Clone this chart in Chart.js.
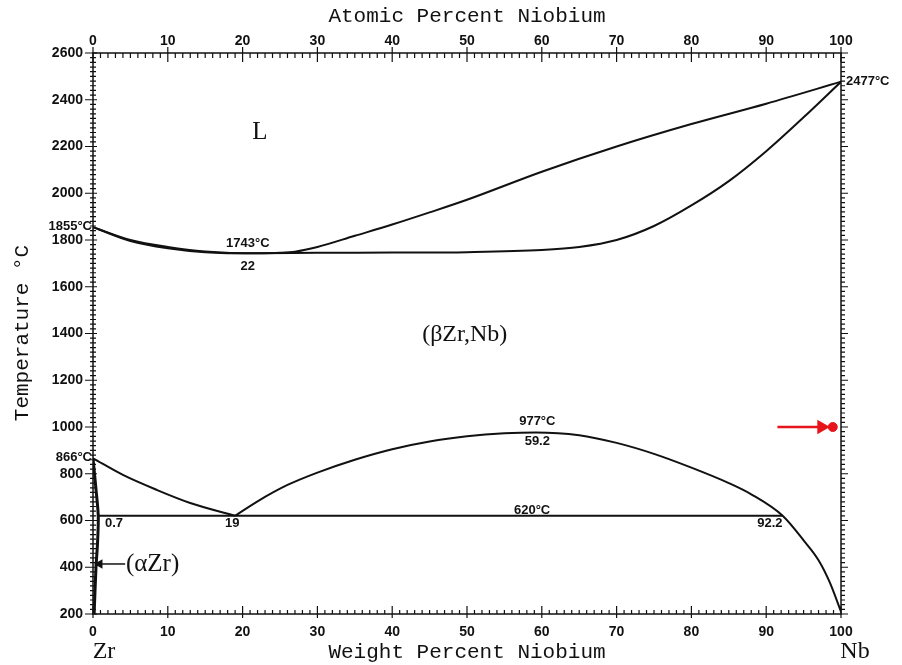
<!DOCTYPE html>
<html>
<head>
<meta charset="utf-8">
<script src="https://cdn.jsdelivr.net/npm/chart.js@4.4.1/dist/chart.umd.min.js"></script>
<style>
  body { margin: 0; background: #fff; }
  canvas { display: block; }
</style>
</head>
<body>
<canvas id="phaseChart" width="902" height="665"></canvas>
<script>
// Zr-Nb phase diagram, points are [wt% Nb, temperature in C]
const liquidus = [[0,1855],[5,1800],[10,1770],[15,1751],[22,1743],[25,1745],[27,1750],[30,1770],[35,1818],[40,1866],[45,1918],[50,1972],[60,2092],[70,2200],[80,2296],[90,2383],[100,2477]];
const solidus = [[0,1855],[5,1796],[10,1765],[15,1748],[22,1743],[30,1745],[40,1746],[50,1748],[60,1757],[65,1770],[70,1800],[75,1860],[80,1948],[85,2052],[90,2180],[95,2325],[100,2477]];
const betaSolvusLeft = [[0,866],[4,795],[8.6,730],[13,675],[19,620]];
const miscibilityDome = [[19,620],[22,682],[26,752],[30,805],[35,860],[40,905],[45,938],[50,960],[55,973],[59.2,977],[65,965],[70,932],[75,885],[80,826],[85,760],[88,712],[92.2,620],[95,515],[97,430],[98.5,335],[100,210]];
const alphaSolvus = [[0,866],[0.35,750],[0.7,620],[0.6,500],[0.4,400],[0.15,200]];
const eutectoid = [[0.7,620],[92.2,620]];
const alphaArrow = [[4.3,414],[0.9,414]];
const redArrow = [[91.5,1000],[97.4,1000]];
const redPoint = [[98.9,1000]];

const wtTicks = [0,10,20,30,40,50,60,70,80,90,100];
const atTicks = [0,10,20,30,40,50,60,70,80,90,100];
const tempTicks = [200,400,600,800,1000,1200,1400,1600,1800,2000,2200,2400,2600];

const numFont = 'bold 13px "Liberation Sans"';
const labels = [
  { text: '1743°C', x: 20.7, y: 1787, font: numFont },
  { text: '22', x: 20.7, y: 1689, font: numFont },
  { text: '977°C', x: 59.4, y: 1026, font: numFont },
  { text: '59.2', x: 59.4, y: 940, font: numFont },
  { text: '620°C', x: 58.7, y: 645, font: numFont },
  { text: '0.7', x: 2.8, y: 589, font: numFont },
  { text: '19', x: 18.6, y: 589, font: numFont },
  { text: '92.2', x: 90.5, y: 589, font: numFont },
  { text: 'L', x: 22.3, y: 2262, font: '25px "Liberation Serif"' },
  { text: '(βZr,Nb)', x: 49.7, y: 1394, font: '24px "Liberation Serif"' },
  { text: '(αZr)', x: 4.4, y: 414, font: '25px "Liberation Serif"', align: 'left' }
];

const toPts = arr => arr.map(p => ({ x: p[0], y: p[1] }));

function curve(data, width) {
  return {
    data: toPts(data),
    showLine: true,
    borderColor: '#111',
    borderWidth: width || 2,
    pointRadius: 0,
    cubicInterpolationMode: 'monotone'
  };
}

const diagramPlugin = {
  id: 'diagram',
  afterDatasetsDraw(chart) {
    const ctx = chart.ctx;
    const a = chart.chartArea;
    const sx = chart.scales.x;
    const sy = chart.scales.y;
    ctx.save();
    ctx.strokeStyle = '#111';
    ctx.fillStyle = '#111';

    // frame
    ctx.lineWidth = 1.5;
    ctx.strokeRect(a.left, a.top, a.right - a.left, a.bottom - a.top);

    // ticks on x (bottom and top)
    ctx.lineWidth = 1.2;
    ctx.beginPath();
    for (let v = 0; v <= 100; v++) {
      const px = sx.getPixelForValue(v);
      const major = v % 10 === 0;
      ctx.moveTo(px, a.bottom + (major ? 4 : 0));
      ctx.lineTo(px, a.bottom - (major ? 8 : 4));
      ctx.moveTo(px, a.top - (major ? 6 : 0));
      ctx.lineTo(px, a.top + (major ? 9 : 5));
    }
    // ticks on y (left and right)
    for (let t = 200; t <= 2600; t += 20) {
      const py = sy.getPixelForValue(t);
      const major = t % 200 === 0;
      ctx.moveTo(a.left - (major ? 8 : 3), py);
      ctx.lineTo(a.left + (major ? 4 : 3), py);
      ctx.moveTo(a.right, py);
      ctx.lineTo(a.right + (major ? 7 : 4), py);
    }
    ctx.stroke();

    // annotations
    ctx.textBaseline = 'middle';
    labels.forEach(l => {
      ctx.font = l.font;
      ctx.textAlign = l.align || 'center';
      ctx.fillText(l.text, sx.getPixelForValue(l.x), sy.getPixelForValue(l.y));
    });

    // melting points outside the frame
    ctx.font = numFont;
    ctx.textAlign = 'right';
    ctx.fillText('1855°C', a.left - 1, sy.getPixelForValue(1855) - 1);
    ctx.fillText('866°C', a.left - 1, sy.getPixelForValue(866) - 1);
    ctx.textAlign = 'left';
    ctx.fillText('2477°C', a.right + 5, sy.getPixelForValue(2477));

    // axis titles
    ctx.font = '21px "Liberation Mono"';
    ctx.textAlign = 'center';
    ctx.fillText('Atomic Percent Niobium', (a.left + a.right) / 2, 16);
    ctx.fillText('Weight Percent Niobium', (a.left + a.right) / 2, 652);
    ctx.save();
    ctx.translate(22, 333);
    ctx.rotate(-Math.PI / 2);
    ctx.fillText('Temperature °C', 0, 0);
    ctx.restore();

    ctx.font = '24px "Liberation Serif"';
    ctx.fillText('Zr', sx.getPixelForValue(0) + 11, 652);
    ctx.fillText('Nb', sx.getPixelForValue(100) + 14, 652);
    ctx.restore();
  }
};

const tickFont = { family: 'Liberation Sans', size: 14, weight: 'bold' };
const noGrid = { display: false, drawTicks: false, tickLength: 0 };
const plain = v => String(v);

new Chart(document.getElementById('phaseChart'), {
  type: 'scatter',
  data: {
    datasets: [
      curve(liquidus),
      curve(solidus),
      curve(betaSolvusLeft),
      curve(miscibilityDome),
      Object.assign(curve(alphaSolvus, 3), { cubicInterpolationMode: 'default', tension: 0.3 }),
      curve(eutectoid),
      {
        data: toPts(alphaArrow), showLine: true, borderColor: '#111', borderWidth: 1.5,
        pointRadius: [0, 4], pointStyle: 'triangle', rotation: -90,
        pointBackgroundColor: '#111', pointBorderColor: '#111'
      },
      {
        data: toPts(redArrow), showLine: true, borderColor: '#e8141b', borderWidth: 2.5,
        pointRadius: [0, 6], pointStyle: 'triangle', rotation: 90,
        pointBackgroundColor: '#e8141b', pointBorderColor: '#e8141b'
      },
      {
        data: toPts(redPoint), pointRadius: 4.5,
        pointBackgroundColor: '#e8141b', pointBorderColor: '#e8141b'
      }
    ]
  },
  options: {
    responsive: false,
    animation: false,
    layout: { padding: 0 },
    plugins: { legend: { display: false }, tooltip: { enabled: false } },
    scales: {
      x: {
        type: 'linear', position: 'bottom', min: 0, max: 100,
        afterBuildTicks: s => { s.ticks = wtTicks.map(v => ({ value: v })); },
        afterFit: s => { s.height = 51; },
        grid: noGrid, border: { display: false },
        ticks: { font: tickFont, color: '#111', padding: 10, maxRotation: 0, callback: plain }
      },
      x2: {
        type: 'linear', position: 'top', min: 0, max: 100,
        afterBuildTicks: s => { s.ticks = atTicks.map(v => ({ value: v })); },
        afterFit: s => { s.height = 53; },
        grid: noGrid, border: { display: false },
        ticks: { font: tickFont, color: '#111', padding: 3, maxRotation: 0, callback: plain }
      },
      y: {
        type: 'linear', position: 'left', min: 200, max: 2600,
        afterBuildTicks: s => { s.ticks = tempTicks.map(v => ({ value: v })); },
        afterFit: s => { s.width = 93; },
        grid: noGrid, border: { display: false },
        ticks: { font: tickFont, color: '#111', padding: 10, callback: plain }
      },
      y2: {
        type: 'linear', position: 'right', min: 200, max: 2600,
        afterFit: s => { s.width = 61; },
        grid: noGrid, border: { display: false },
        ticks: { display: false }
      }
    }
  },
  plugins: [diagramPlugin]
});
</script>
</body>
</html>
